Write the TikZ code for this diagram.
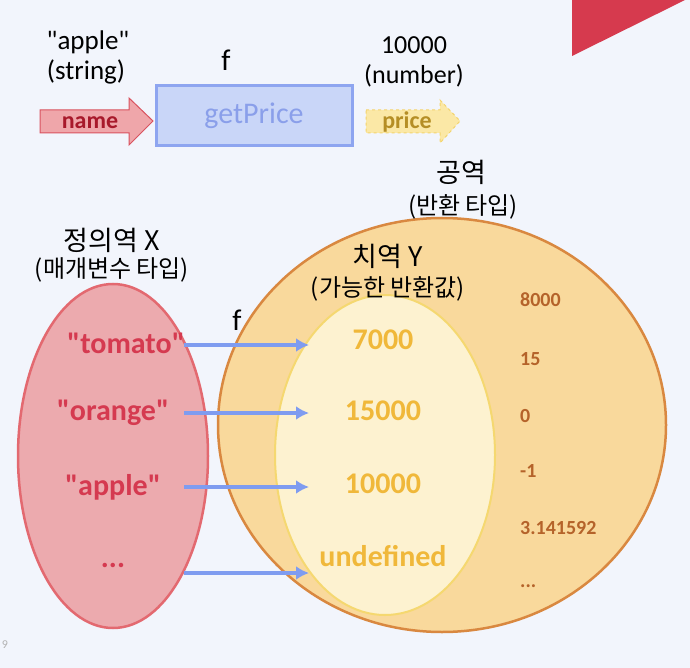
\documentclass[tikz,border=0pt]{standalone}
\usepackage{fontspec}
\usepackage{xcolor}
\usetikzlibrary{arrows.meta,shapes.geometric}
\setmainfont{Carlito}[Ligatures=TeXOff]
\newfontfamily\krfont{Noto Sans CJK KR}

\definecolor{bgcol}{HTML}{F2F5FC}
\definecolor{tricol}{HTML}{D63A4E}
\definecolor{namefill}{HTML}{EFA6AA}
\definecolor{nameline}{HTML}{D9535F}
\definecolor{nametext}{HTML}{A8192B}
\definecolor{boxfill}{HTML}{C9D6F8}
\definecolor{boxline}{HTML}{8EA5F0}
\definecolor{boxtext}{HTML}{8A9FEA}
\definecolor{pricefill}{HTML}{FBE8A6}
\definecolor{priceline}{HTML}{F3D46E}
\definecolor{pricetext}{HTML}{B58E25}
\definecolor{domfill}{HTML}{ECAAAE}
\definecolor{domline}{HTML}{E36970}
\definecolor{domtext}{HTML}{D53A50}
\definecolor{codfill}{HTML}{F9D99C}
\definecolor{codline}{HTML}{D98840}
\definecolor{codtext}{HTML}{B5632A}
\definecolor{rangefill}{HTML}{FDF2D0}
\definecolor{rangeline}{HTML}{F5D870}
\definecolor{rangetext}{HTML}{F0B83A}
\definecolor{arrowcol}{HTML}{7F9CF0}

\newcommand{\fsz}[1]{\fontsize{#1}{#1}\selectfont}

\begin{document}
\begin{tikzpicture}[x=1pt,y=-1pt,
    txt/.style={inner sep=0pt,anchor=center},
    domitem/.style={txt,font=\fsz{30}\bfseries,text=domtext},
    rangeitem/.style={txt,font=\fsz{30}\bfseries,text=rangetext},
    coditem/.style={txt,anchor=west,font=\fsz{20}\bfseries,text=codtext},
    krbig/.style={txt,font=\krfont\fsz{27}},
    krsmall/.style={txt,font=\krfont\fsz{24}},
    fnarrow/.style={draw=arrowcol,line width=3.5pt,-{Latex[length=13pt,width=14pt]}}]
    \useasboundingbox (0,0) rectangle (690,668);
    \fill[bgcol] (0,0) rectangle (690,668);
    \fill[tricol] (572,0) -- (685,0) -- (572,56) -- cycle;

    % top: f as a box
    \draw[nameline,fill=namefill,line width=1pt] (40,110) -- (129,110) -- (129,98) -- (153,121)
        -- (129,145) -- (129,133) -- (40,133) -- cycle;
    \node[txt,font=\fsz{24}\bfseries,text=nametext] (name) at (90,123) {name};
    \node[txt,draw=boxline,fill=boxfill,line width=3pt,minimum width=196pt,minimum height=60pt,
        font=\fsz{30},text=boxtext] (getPrice) at (254,116) {getPrice};
    \draw[priceline,fill=pricefill,line width=1pt,dashed] (366,110) -- (440,110) -- (440,100) -- (460,121)
        -- (440,143) -- (440,133) -- (366,133) -- cycle;
    \node[txt,font=\fsz{24}\bfseries,text=pricetext] (price) at (407,122) {price};
    \node[txt,font=\fsz{27}] (argval) at (88,42) {"apple"};
    \node[txt,font=\fsz{27}] (argtype) at (86,72) {(string)};
    \node[txt,font=\fsz{30}] (fbox) at (226,60) {f};
    \node[txt,font=\fsz{26}] (retval) at (414,45) {10000};
    \node[txt,font=\fsz{26}] (rettype) at (414,76) {(number)};

    % sets
    \draw[codline,fill=codfill,line width=2.5pt] (442,425) ellipse [x radius=224, y radius=207];
    \draw[rangeline,fill=rangefill,line width=2pt] (385,455) ellipse [x radius=110, y radius=160];
    \draw[domline,fill=domfill,line width=2.5pt] (113,456) ellipse [x radius=95, y radius=172];

    \node[krbig] (codomain) at (461,172) {공역};
    \node[krsmall] (codomainsub) at (463,207) {(반환 타입)};
    \node[krbig] (domain) at (112,240) {정의역 X};
    \node[krsmall] (domainsub) at (112,270) {(매개변수 타입)};
    \node[krbig] (range) at (388,256) {치역 Y};
    \node[krsmall] (rangesub) at (388,289) {(가능한 반환값)};
    \node[txt,font=\fsz{30}] (fmap) at (237,320) {f};

    \node[domitem] (d1) at (126,343) {"tomato"};
    \node[domitem] (d2) at (113,413) {"orange"};
    \node[domitem] (d3) at (113,487) {"apple"};
    \node[domitem] (d4) at (113,565) {...};

    \node[rangeitem] (r1) at (383,340) {7000};
    \node[rangeitem] (r2) at (383,411) {15000};
    \node[rangeitem] (r3) at (383,484) {10000};
    \node[rangeitem] (r4) at (383,556) {undefined};

    \node[coditem] (c1) at (520,300) {8000};
    \node[coditem] (c2) at (520,359) {15};
    \node[coditem] (c3) at (520,416) {0};
    \node[coditem] (c4) at (520,471) {-1};
    \node[coditem] (c5) at (520,528) {3.141592};
    \node[coditem] (c6) at (520,586) {...};

    % f arrows
    \coordinate (from) at (184,0);
    \coordinate (to) at (309,0);
    \coordinate (d4out) at (184,573);
    \draw[fnarrow] ([yshift=-2pt]d1.center -| from) -- ([yshift=-2pt]d1.center -| to);
    \draw[fnarrow] (d2.center -| from) -- (d2.center -| to);
    \draw[fnarrow] (d3.center -| from) -- (d3.center -| to);
    \draw[fnarrow] (d4out) -- (d4out -| to);

    \node[txt,font=\fsz{12},text=gray!60] (page) at (5,645) {9};
\end{tikzpicture}
\end{document}
